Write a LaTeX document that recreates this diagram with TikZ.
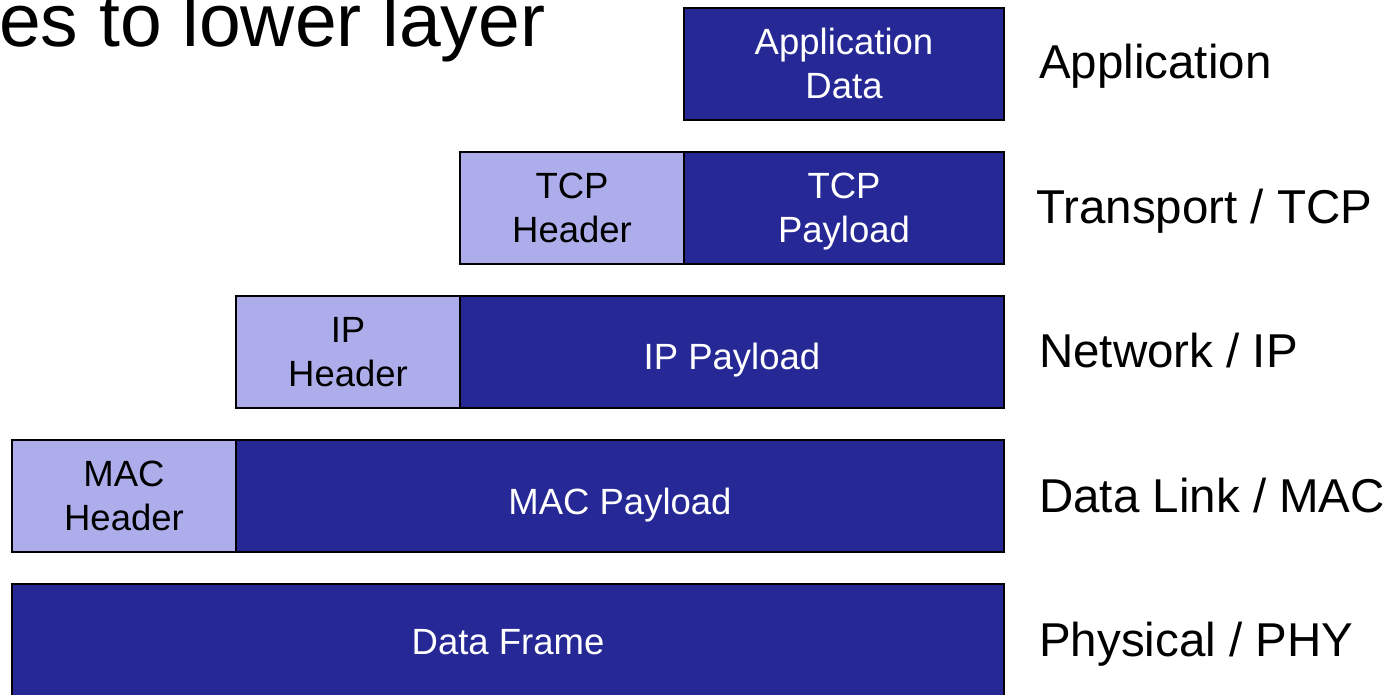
\documentclass[tikz,border=0pt]{standalone}
\usepackage{fontspec}
\setmainfont{Liberation Sans}
\definecolor{darkblue}{RGB}{38,40,150}
\definecolor{lightblue}{RGB}{173,173,235}
\begin{document}
\begin{tikzpicture}[x=1pt,y=-1pt,
  boxbase/.style={draw=black, line width=2pt, inner sep=0pt, outer sep=0pt, anchor=north west, minimum height=112pt},
  pay/.style={boxbase, fill=darkblue},
  hdr/.style={boxbase, fill=lightblue},
  wtxt/.style={text=white, font=\fontsize{36.5}{44}\selectfont, inner sep=0pt, anchor=base},
  btxt/.style={text=black, font=\fontsize{36.5}{44}\selectfont, inner sep=0pt, anchor=base},
  lay/.style={font=\fontsize{47.5}{56}\selectfont, inner sep=0pt, anchor=base west}]
\useasboundingbox (0,0) rectangle (1400,694);
\clip (0,0) rectangle (1400,694);
% title fragment
\node[font=\fontsize{75}{80}\selectfont, inner sep=0pt, anchor=base west] (title) at (-1,46.5) {es to lower layer};
% row 0
\node[pay, minimum width=320pt] (app) at (684,8) {};
\node[wtxt] (appt1) at (844,54.5) {Application};
\node[wtxt] (appt2) at (844,98.5) {Data};
% row 1
\node[hdr, minimum width=224pt] (tcph) at (460,152) {};
\node[pay, minimum width=320pt] (tcpp) at (684,152) {};
\node[btxt] (tcpht1) at (572,198.5) {TCP};
\node[btxt] (tcpht2) at (572,242.5) {Header};
\node[wtxt] (tcppt1) at (844,198.5) {TCP};
\node[wtxt] (tcppt2) at (844,242.5) {Payload};
% row 2
\node[hdr, minimum width=224pt] (iph) at (236,296) {};
\node[pay, minimum width=544pt] (ipp) at (460,296) {};
\node[btxt] (ipht1) at (348,342.5) {IP};
\node[btxt] (ipht2) at (348,386.5) {Header};
\node[wtxt] (ippt) at (732,369) {IP Payload};
% row 3
\node[hdr, minimum width=224pt] (mach) at (12,440) {};
\node[pay, minimum width=768pt] (macp) at (236,440) {};
\node[btxt] (macht1) at (124,486.5) {MAC};
\node[btxt] (macht2) at (124,530.5) {Header};
\node[wtxt] (macpt) at (620,514) {MAC Payload};
% row 4
\node[pay, minimum width=992pt] (frame) at (12,584) {};
\node[wtxt] (framet) at (508,654) {Data Frame};
% layer labels
\node[lay] (l0) at (1039,78) {Application};
\node[lay] (l1) at (1036,223) {Transport / TCP};
\node[lay] (l2) at (1039,367) {Network / IP};
\node[lay] (l3) at (1039,512) {Data Link / MAC};
\node[lay] (l4) at (1039,656) {Physical / PHY};
\end{tikzpicture}
\end{document}
